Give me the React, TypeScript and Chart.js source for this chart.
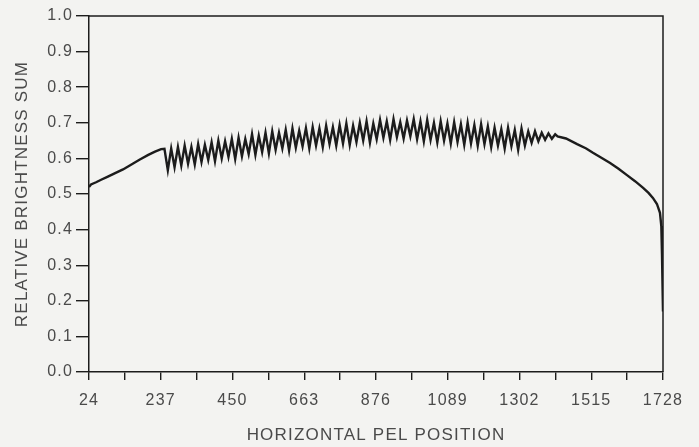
import React, { useEffect, useRef } from "react";
import { Chart, registerables } from "chart.js";

Chart.register(...registerables);

// Smooth rise before the ripple starts
const rampPel = [24, 30, 45, 60, 80, 100, 125, 150, 175, 200, 220, 238, 248];
const rampSum = [0.52, 0.527, 0.533, 0.54, 0.549, 0.558, 0.569, 0.583, 0.597, 0.61, 0.619, 0.626, 0.627];

// Rippled middle section (alternating trough / peak)
const ripplePel = [
  258, 268, 278, 288, 298, 308, 318, 328, 338, 348, 358, 368, 378, 388, 398, 408, 418, 428, 438, 448,
  458, 468, 478, 488, 498, 508, 518, 528, 538, 548, 558, 568, 578, 588, 598, 608, 618, 628, 638, 648,
  658, 668, 678, 688, 698, 708, 718, 728, 738, 748, 758, 768, 778, 788, 798, 808, 818, 828, 838, 848,
  858, 868, 878, 888, 898, 908, 918, 928, 938, 948, 958, 968, 978, 988, 998, 1008, 1018, 1028, 1038, 1048,
  1058, 1068, 1078, 1088, 1098, 1108, 1118, 1128, 1138, 1148, 1158, 1168, 1178, 1188, 1198, 1208, 1218, 1228, 1238, 1248,
  1258, 1268, 1278, 1288, 1298, 1308, 1318, 1328, 1338, 1348, 1358, 1368, 1378, 1388, 1398, 1408,
];
const rippleSum = [
  0.567, 0.628, 0.575, 0.632, 0.58, 0.636, 0.585, 0.632, 0.583, 0.64, 0.59, 0.638, 0.596, 0.645, 0.592, 0.65, 0.6, 0.648, 0.604, 0.655,
  0.598, 0.658, 0.606, 0.654, 0.612, 0.668, 0.61, 0.664, 0.618, 0.672, 0.614, 0.676, 0.624, 0.672, 0.628, 0.68, 0.622, 0.684, 0.63, 0.678,
  0.634, 0.685, 0.628, 0.688, 0.636, 0.684, 0.632, 0.692, 0.64, 0.688, 0.636, 0.694, 0.642, 0.698, 0.638, 0.692, 0.646, 0.7, 0.65, 0.704,
  0.644, 0.698, 0.654, 0.708, 0.658, 0.704, 0.652, 0.71, 0.66, 0.702, 0.656, 0.706, 0.662, 0.71, 0.654, 0.704, 0.648, 0.708, 0.652, 0.7,
  0.645, 0.704, 0.65, 0.698, 0.642, 0.702, 0.646, 0.696, 0.638, 0.7, 0.642, 0.694, 0.636, 0.696, 0.64, 0.69, 0.632, 0.686, 0.636, 0.682,
  0.628, 0.686, 0.634, 0.68, 0.624, 0.684, 0.636, 0.676, 0.644, 0.676, 0.648, 0.672, 0.652, 0.67, 0.655, 0.668,
];

// Smooth fall-off at the right edge
const fallPel = [1415, 1440, 1473, 1500, 1520, 1545, 1571, 1596, 1621, 1645, 1669, 1685, 1698, 1710, 1719, 1723, 1725, 1727, 1728];
const fallSum = [0.662, 0.656, 0.64, 0.628, 0.616, 0.602, 0.587, 0.571, 0.553, 0.536, 0.517, 0.503, 0.489, 0.472, 0.447, 0.41, 0.33, 0.22, 0.17];

const xTickValues = [24, 130.5, 237, 343.5, 450, 556.5, 663, 769.5, 876, 982.5, 1089, 1195.5, 1302, 1408.5, 1515, 1621.5, 1728];
const xTickLabels = ["24", "", "237", "", "450", "", "663", "", "876", "", "1089", "", "1302", "", "1515", "", "1728"];
const yTickValues = [0, 0.1, 0.2, 0.3, 0.4, 0.5, 0.6, 0.7, 0.8, 0.9, 1.0];
const yTickLabels = ["0.0", "0.1", "0.2", "0.3", "0.4", "0.5", "0.6", "0.7", "0.8", "0.9", "1.0"];

const xTitle = "HORIZONTAL PEL POSITION";
const yTitle = "RELATIVE BRIGHTNESS SUM";

const INK = "#1c1c1c";
const TEXT = "#4a4a4a";
const BG = "#f3f3f1";

export default function App() {
  const canvasRef = useRef<HTMLCanvasElement | null>(null);

  useEffect(() => {
    if (!canvasRef.current) return;
    const pts: { x: number; y: number }[] = [];
    rampPel.forEach((p, i) => pts.push({ x: p, y: rampSum[i] }));
    ripplePel.forEach((p, i) => pts.push({ x: p, y: rippleSum[i] }));
    fallPel.forEach((p, i) => pts.push({ x: p, y: fallSum[i] }));

    const framePlugin = {
      id: "frame",
      beforeDraw(chart: any) {
        chart.ctx.letterSpacing = "1.2px";
      },
      afterDraw(chart: any) {
        const { ctx, chartArea } = chart;
        ctx.save();
        ctx.strokeStyle = INK;
        ctx.lineWidth = 1.5;
        ctx.beginPath();
        ctx.moveTo(chartArea.left, chartArea.top);
        ctx.lineTo(chartArea.right, chartArea.top);
        ctx.lineTo(chartArea.right, chartArea.bottom);
        ctx.stroke();
        ctx.restore();
      },
    };

    const chart = new Chart(canvasRef.current, {
      type: "line",
      data: {
        datasets: [
          {
            data: pts,
            borderColor: INK,
            borderWidth: 2.4,
            pointRadius: 0,
            tension: 0,
            fill: false,
          },
        ],
      },
      options: {
        animation: false,
        responsive: true,
        maintainAspectRatio: false,
        layout: { padding: { top: 16, right: 36, left: 0, bottom: 0 } },
        plugins: { legend: { display: false }, tooltip: { enabled: false } },
        scales: {
          x: {
            type: "linear",
            min: 24,
            max: 1728,
            afterBuildTicks: (scale: any) => {
              scale.ticks = xTickValues.map((v) => ({ value: v }));
            },
            afterFit: (scale: any) => {
              scale.height = 75;
            },
            ticks: {
              autoSkip: false,
              maxRotation: 0,
              padding: 11,
              color: TEXT,
              font: { family: "Liberation Sans, Arial, sans-serif", size: 16 },
              callback: (_v: any, i: number) => xTickLabels[i],
            },
            grid: { drawOnChartArea: false, drawTicks: true, tickLength: 8, color: INK, lineWidth: 1.4 },
            border: { display: true, color: INK, width: 1.5 },
            title: {
              display: true,
              text: xTitle,
              color: TEXT,
              font: { family: "Liberation Sans, Arial, sans-serif", size: 17 },
              padding: { top: 0, bottom: 1 },
            },
          },
          y: {
            type: "linear",
            min: 0,
            max: 1,
            afterBuildTicks: (scale: any) => {
              scale.ticks = yTickValues.map((v) => ({ value: v }));
            },
            afterFit: (scale: any) => {
              scale.width = 89;
            },
            ticks: {
              padding: 3,
              color: TEXT,
              font: { family: "Liberation Sans, Arial, sans-serif", size: 16 },
              callback: (_v: any, i: number) => yTickLabels[i],
            },
            grid: { drawOnChartArea: false, drawTicks: true, tickLength: 13, color: INK, lineWidth: 1.4 },
            border: { display: true, color: INK, width: 1.5 },
            title: {
              display: true,
              text: yTitle,
              color: TEXT,
              font: { family: "Liberation Sans, Arial, sans-serif", size: 17 },
              padding: { top: 12, bottom: 0 },
            },
          },
        },
      },
      plugins: [framePlugin],
    });
    return () => chart.destroy();
  }, []);

  return (
    <div style={{ position: "fixed", left: 0, top: 0, width: 699, height: 447, background: BG }}>
      <canvas ref={canvasRef} />
    </div>
  );
}
